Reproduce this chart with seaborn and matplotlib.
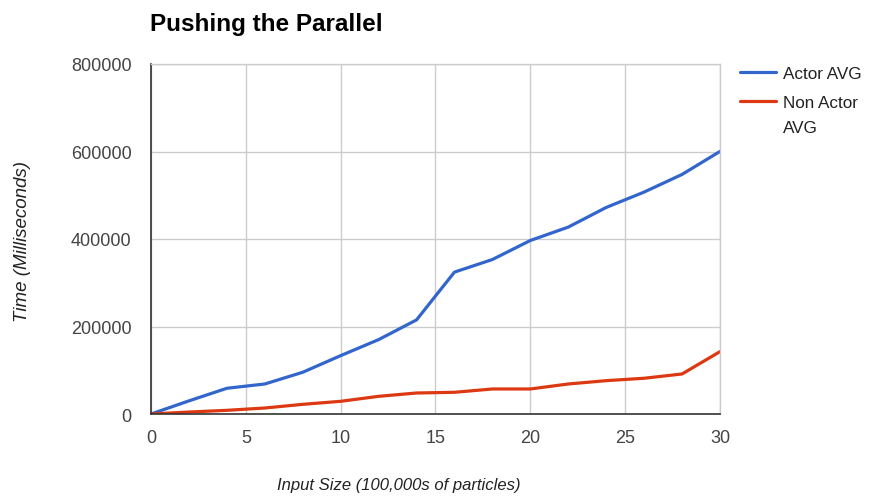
import matplotlib
matplotlib.use("Agg")
import matplotlib.pyplot as plt
import seaborn as sns
import pandas as pd

# Input size in units of 100,000 particles
input_size = [0, 2, 4, 6, 8, 10, 12, 14, 16, 18, 20, 22, 24, 26, 28, 30]
# Average run time in milliseconds
actor_avg = [0, 30000, 58800, 68600, 95400, 133400, 170000, 215100, 324300,
             353100, 396600, 427200, 472100, 507300, 547600, 600200]
non_actor_avg = [0, 4500, 8400, 13700, 22100, 29000, 40400, 48000, 49600,
                 57200, 57200, 68600, 76200, 81700, 91500, 142600]
series_names = ["Actor AVG", "Non Actor\nAVG"]
x_ticks = [0, 5, 10, 15, 20, 25, 30]
y_ticks = [0, 200000, 400000, 600000, 800000]

df = pd.DataFrame({
    "x": input_size * 2,
    "y": actor_avg + non_actor_avg,
    "series": [series_names[0]] * len(input_size) + [series_names[1]] * len(input_size),
})

sns.set_theme(style="white")
plt.rcParams["font.family"] = ["Liberation Sans", "DejaVu Sans"]

W, H = 870, 502
fig = plt.figure(figsize=(W / 100, H / 100), dpi=100)
ax = fig.add_axes([151 / W, 1 - 415 / H, (720 - 151) / W, (415 - 65) / H])

palette = {series_names[0]: "#3366cc", series_names[1]: "#dc3912"}
sns.lineplot(data=df, x="x", y="y", hue="series", palette=palette,
             linewidth=2.3, ax=ax, legend=False)

ax.set_xlim(0, 30)
ax.set_ylim(0, 800000)
ax.set_xticks(x_ticks)
ax.set_yticks(y_ticks)
ax.set_xticklabels([str(t) for t in x_ticks])
ax.set_yticklabels([str(t) for t in y_ticks])
ax.tick_params(axis="both", length=0, labelsize=13, labelcolor="#444444")
ax.tick_params(axis="x", pad=11)
ax.tick_params(axis="y", pad=14)
ax.grid(True, color="#cccccc", linewidth=1)
ax.set_axisbelow(True)

for side in ["top", "right"]:
    ax.spines[side].set_color("#cccccc")
    ax.spines[side].set_linewidth(1)
for side in ["left", "bottom"]:
    ax.spines[side].set_color("#333333")
    ax.spines[side].set_linewidth(1.2)

ax.set_xlabel("")
ax.set_ylabel("")
fig.text(399 / W, 1 - 486 / H, "Input Size (100,000s of particles)",
         fontsize=12, fontstyle="italic", color="#222222",
         ha="center", va="center")
fig.text(23 / W, 1 - 241 / H, "Time (Milliseconds)", fontsize=13.5,
         fontstyle="italic", color="#222222", rotation=90,
         ha="center", va="center")

fig.text(150 / W, 1 - 31.5 / H, "Pushing the Parallel", fontsize=17.5,
         fontweight="bold", color="#000000", va="baseline", ha="left")

# Legend drawn to the right of the plot area, one text per wrapped line
legend_rows = [(73, series_names[0], palette[series_names[0]]),
               (102, series_names[1], palette[series_names[1]])]
for y_px, name, col in legend_rows:
    fig.add_artist(plt.Line2D([740 / W, 776 / W], [1 - y_px / H] * 2,
                              color=col, linewidth=2.3))
    for i, part in enumerate(name.split("\n")):
        fig.text(783 / W, 1 - (y_px + 6.3 + 25 * i) / H, part, fontsize=12.3,
                 color="#222222", va="baseline", ha="left")

fig.savefig("out.png", dpi=100)
